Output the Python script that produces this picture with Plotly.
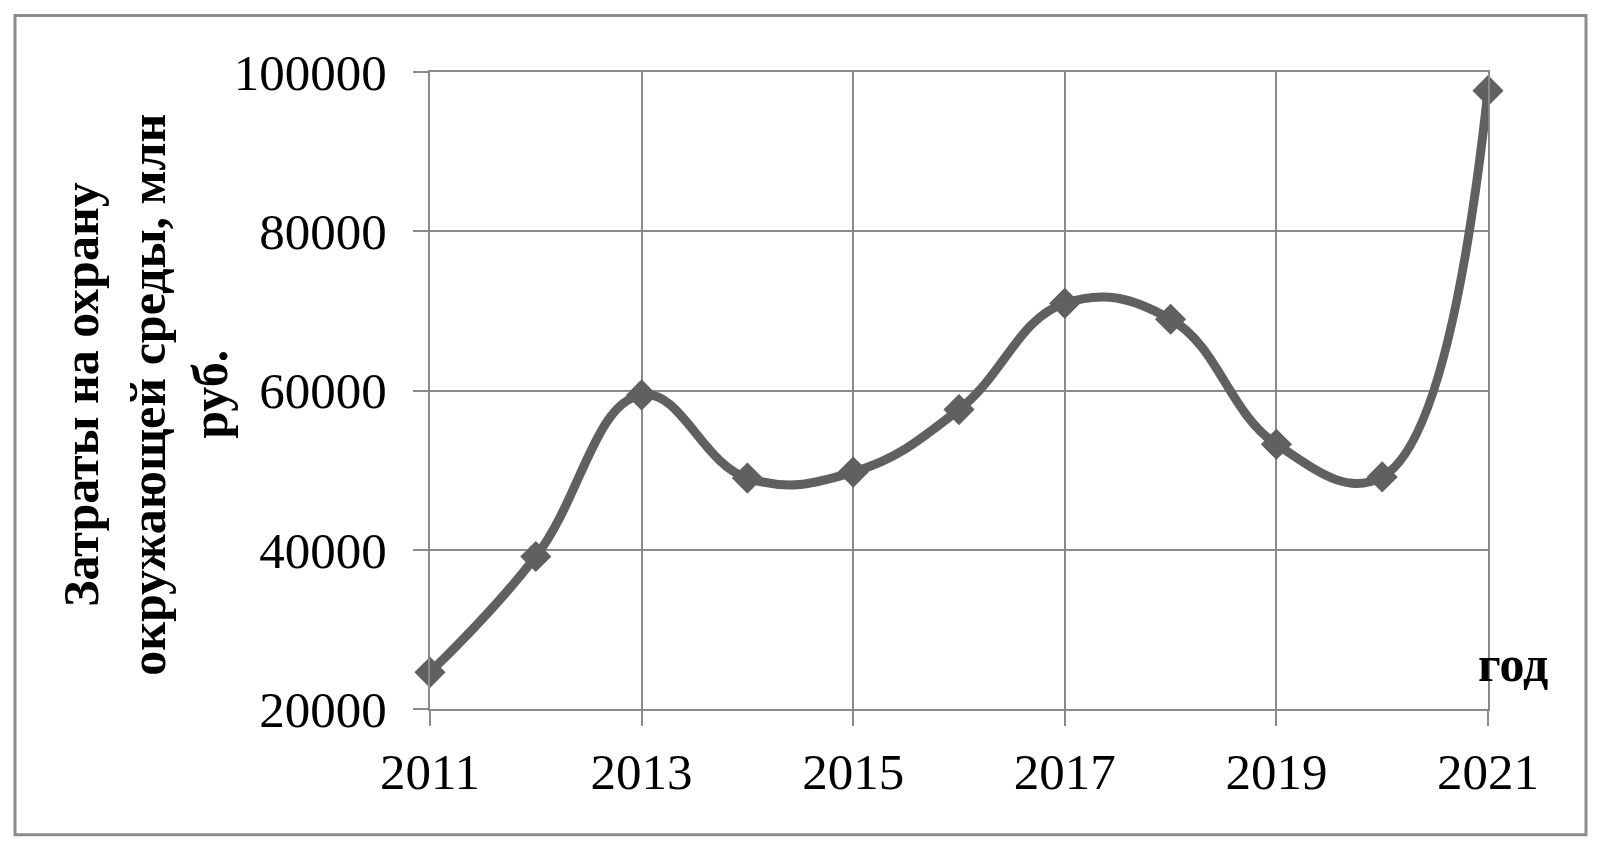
import plotly.graph_objects as go

years = [2011, 2012, 2013, 2014, 2015, 2016, 2017, 2018, 2019, 2020, 2021]
costs = [24600, 39150, 59450, 49000, 49750, 57600, 70950, 68950, 53250, 49150, 97650]

y_title_lines = ["Затраты на охрану", "окружающей среды, млн", "руб."]
x_title = "год"

W, H = 1597, 847
L, R, T, B = 430, 1488, 72, 709.3
GRID = "#8a8a8a"
LINE = "#606060"
FONT = "Liberation Serif"

def px(xp):
    return (xp - L) / (R - L)

def py(yp):
    return (B - yp) / (B - T)

fig = go.Figure()
fig.add_trace(go.Scatter(
    x=years, y=costs, mode="lines+markers",
    line=dict(color=LINE, width=9, shape="spline", smoothing=1.2),
    marker=dict(symbol="diamond", size=24, color=LINE),
    cliponaxis=False, showlegend=False, hoverinfo="x+y",
))

axis_common = dict(
    showgrid=True, gridcolor=GRID, gridwidth=2,
    showline=True, linecolor=GRID, linewidth=2, mirror=True,
    ticks="outside", ticklen=15, tickwidth=2, tickcolor=GRID,
    zeroline=False,
    tickfont=dict(family=FONT, size=51, color="black"),
)

fig.update_xaxes(range=[2011, 2021], tick0=2011, dtick=2, ticklabelstandoff=2, **axis_common)
fig.update_yaxes(range=[20000, 100000], tick0=20000, dtick=20000, tickformat="d",
                 ticklabelstandoff=16, **axis_common)

annotations = []
for i, (line_txt, cx) in enumerate(zip(y_title_lines, [81, 148, 210])):
    annotations.append(dict(
        text="<b>%s</b>" % line_txt, xref="paper", yref="paper",
        x=px(cx), y=py(395), xanchor="center", yanchor="middle",
        textangle=-90, showarrow=False,
        font=dict(family=FONT, size=50, color="black"),
    ))
annotations.append(dict(
    text="<b>%s</b>" % x_title, xref="paper", yref="paper",
    x=px(1513), y=py(664), xanchor="center", yanchor="middle",
    showarrow=False, font=dict(family=FONT, size=50, color="black"),
))

fig.update_layout(
    width=W, height=H,
    margin=dict(l=L, r=W - R, t=T, b=H - B, pad=0),
    paper_bgcolor="white", plot_bgcolor="white",
    annotations=annotations,
    shapes=[dict(type="rect", xref="paper", yref="paper",
                 x0=px(15), x1=px(1586), y0=py(835), y1=py(15.5),
                 line=dict(color="#8c8c8c", width=3), layer="below")],
)

fig.write_html("out.html", config={"displayModeBar": False},
               post_script="document.body.style.margin='0';document.body.style.overflow='hidden';")
